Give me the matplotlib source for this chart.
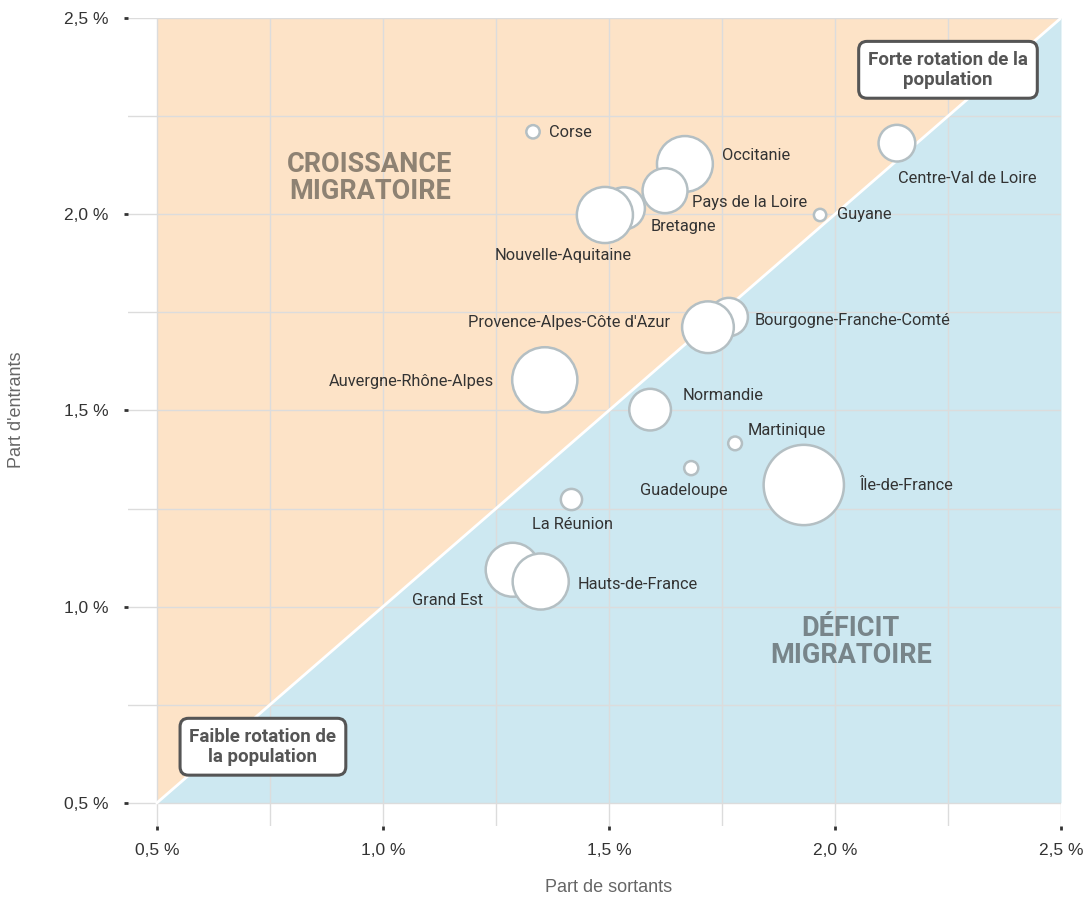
import numpy as np
import matplotlib
matplotlib.use("Agg")
from matplotlib import pyplot as plt
from matplotlib.ticker import MultipleLocator, FuncFormatter

regions = ["Corse", "Occitanie", "Pays de la Loire", "Bretagne", "Nouvelle-Aquitaine",
           "Centre-Val de Loire", "Guyane", "Bourgogne-Franche-Comté",
           "Provence-Alpes-Côte d'Azur", "Auvergne-Rhône-Alpes", "Normandie",
           "Martinique", "Guadeloupe", "Île-de-France", "La Réunion", "Grand Est",
           "Hauts-de-France"]
# part de sortants / part d'entrants (en %)
sortants = [1.332, 1.668, 1.624, 1.533, 1.491, 2.137, 1.967, 1.765, 1.719,
            1.358, 1.591, 1.779, 1.682, 1.931, 1.417, 1.287, 1.349]
entrants = [2.210, 2.128, 2.060, 2.015, 1.998, 2.181, 1.998, 1.738, 1.712,
            1.578, 1.502, 1.416, 1.353, 1.310, 1.273, 1.094, 1.064]
# population (millions d'habitants), taille des bulles
population = [0.34, 5.95, 3.85, 3.37, 6.0, 2.57, 0.29, 2.8, 5.1,
              8.1, 3.31, 0.36, 0.38, 12.3, 0.86, 5.55, 6.0]

# décalage des étiquettes (pixels) et alignement
label_pos = {
    "Corse": (16, -1, "left"),
    "Occitanie": (37, 8, "left"),
    "Pays de la Loire": (27, -12, "left"),
    "Bretagne": (27, -18, "left"),
    "Nouvelle-Aquitaine": (-42, -41, "center"),
    "Centre-Val de Loire": (1, -35, "left"),
    "Guyane": (17, 0, "left"),
    "Bourgogne-Franche-Comté": (26, -3, "left"),
    "Provence-Alpes-Côte d'Azur": (-38, 5, "right"),
    "Auvergne-Rhône-Alpes": (-51, -2, "right"),
    "Normandie": (33, 14, "left"),
    "Martinique": (13, 13, "left"),
    "Guadeloupe": (-7, -22, "center"),
    "Île-de-France": (55, -1, "left"),
    "La Réunion": (1, -25, "center"),
    "Grand Est": (-30, -31, "right"),
    "Hauts-de-France": (37, -3, "left"),
}

narrow = ["Roboto", "DejaVu Sans"]
plt.rcParams["font.family"] = ["Liberation Sans", "DejaVu Sans"]

W, H, DPI = 1092, 901, 100
fig = plt.figure(figsize=(W / DPI, H / DPI), dpi=DPI)
ax = fig.add_axes([128 / W, 1 - 826 / H, (1061 - 128) / W, (826 - 18) / H])

lo, hi = 0.5, 2.5
ax.set_xlim(0.436, hi)
ax.set_ylim(0.441, hi)

# zones au-dessus / au-dessous de la diagonale
ax.fill_between([lo, hi], [lo, hi], [hi, hi], color="#fde3c7", lw=0, zorder=0)
ax.fill_between([lo, hi], [lo, lo], [lo, hi], color="#cde8f1", lw=0, zorder=0)

for v in np.arange(0.5, 2.51, 0.25):
    ax.axhline(v, color="#dcdcdc", lw=1, zorder=1)
    ax.axvline(v, color="#dcdcdc", lw=1, zorder=1)
ax.plot([lo, hi], [lo, hi], color="white", lw=2, zorder=2)

for s in ax.spines.values():
    s.set_visible(False)
ax.xaxis.set_major_locator(MultipleLocator(0.5))
ax.yaxis.set_major_locator(MultipleLocator(0.5))
fmt = FuncFormatter(lambda v, p: f"{v:.1f} %".replace(".", ","))
ax.xaxis.set_major_formatter(fmt)
ax.yaxis.set_major_formatter(fmt)
ax.tick_params(length=3, width=2, color="#333333", labelcolor="#333333",
               labelsize=12.5, pad=9)
ax.tick_params(axis="y", pad=11)

# bulles : aire proportionnelle à la population
radius_px = 11.45 * np.sqrt(np.array(population))
sizes = (2 * radius_px * 72 / DPI) ** 2
ax.scatter(sortants, entrants, s=sizes, facecolor="white", edgecolor="#b4bfc3",
           linewidth=1.8, zorder=3)

for name, x, y in zip(regions, sortants, entrants):
    dx, dy, ha = label_pos[name]
    ax.annotate(name, (x, y), xytext=(dx, dy), textcoords="offset pixels",
                ha=ha, va="center", fontsize=11.8, color="#333333",
                family=narrow, zorder=4)

ax.text(0.971, 2.092, "CROISSANCE\nMIGRATOIRE", ha="center", va="center",
        fontsize=19.5, fontweight="bold", color="#8e8273", family=narrow,
        linespacing=1.0, zorder=4)
ax.text(2.035, 0.910, "DÉFICIT\nMIGRATOIRE", ha="center", va="center",
        fontsize=19.5, fontweight="bold", color="#78858a", family=narrow,
        linespacing=1.0, zorder=4)

box = dict(boxstyle="round,pad=0.5,rounding_size=0.45", facecolor="white",
           edgecolor="#555555", linewidth=2.2)
ax.text(2.250, 2.368, "Forte rotation de la\npopulation", ha="center", va="center",
        fontsize=13.5, fontweight="bold", color="#555555", family=narrow,
        linespacing=1.15, bbox=box, zorder=5)
ax.text(0.7345, 0.643, "Faible rotation de\nla population", ha="center", va="center",
        fontsize=13.5, fontweight="bold", color="#555555", family=narrow,
        linespacing=1.15, bbox=box, zorder=5)

fig.text(609 / W, 1 - 887 / H, "Part de sortants", ha="center", va="center",
         fontsize=13, color="#666666")
fig.text(17 / W, 1 - 410 / H, "Part d'entrants", ha="center", va="center",
         rotation=90, fontsize=13, color="#666666")

fig.savefig("out.png", dpi=DPI)
